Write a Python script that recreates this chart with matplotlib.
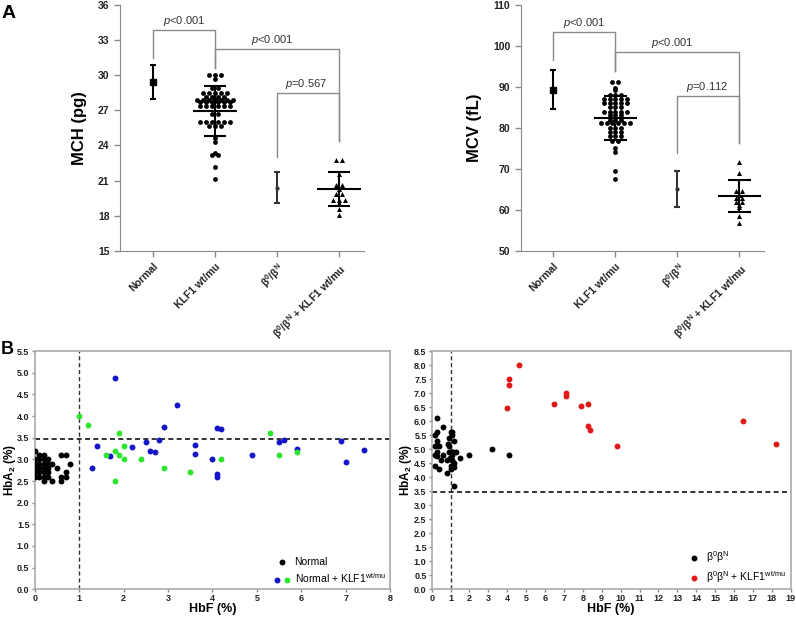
import matplotlib
matplotlib.use("Agg")
import matplotlib.pyplot as plt
from matplotlib.legend_handler import HandlerTuple
import numpy as np

plt.rcParams['font.family'] = ['Liberation Sans', 'DejaVu Sans']
plt.rcParams['mathtext.fontset'] = 'custom'
plt.rcParams['mathtext.rm'] = 'Liberation Sans'
plt.rcParams['mathtext.it'] = 'Liberation Sans:italic'
plt.rcParams['mathtext.bf'] = 'Liberation Sans:bold'

GRAY = '#8a8a8a'

# ---------- panel A data ----------
groups = ["Normal", "KLF1 wt/mu", r"β$^\mathbf{0}$/β$^\mathbf{N}$",
          r"β$^\mathbf{0}$/β$^\mathbf{N}$ + KLF1 wt/mu"]

# MCH (pg)
mch_mean = [29.4, 26.95, 20.4, 20.25]
mch_sd = [1.45, 2.1, 1.35, 1.45]
mch_klf1 = [30.0, 30.0, 30.0, 29.7, 28.9, 28.9,
            28.45, 28.45, 28.45, 28.45, 28.45,
            28.1, 28.1, 28.1, 28.1,
            27.9, 27.9, 27.9, 27.9, 27.9, 27.9, 27.9,
            27.7, 27.7, 27.7, 27.7, 27.7, 27.7,
            27.4, 27.4, 27.4, 27.4, 27.4, 27.4,
            26.65, 26.65,
            26.0, 26.0, 26.0, 26.0, 26.0, 26.0,
            25.65, 25.65, 25.65,
            24.65, 24.3, 23.4, 23.2, 23.2, 22.2, 21.1]
mch_combo = [22.8, 22.8, 21.55, 20.6, 20.6, 20.3, 19.9, 19.9,
             19.35, 19.35, 19.35, 19.05, 18.55, 18.1]

# MCV (fL)
mcv_mean = [89.3, 82.4, 65.2, 63.5]
mcv_sd = [4.75, 5.45, 4.4, 3.9]
mcv_klf1 = [91.1, 91.1, 89.7, 89.2, 88.1, 88.1, 88.1,
            87.1, 87.1, 87.1, 87.1, 87.1,
            86.1, 86.1, 86.1, 86.1, 86.1,
            85.1, 85.1, 85.1,
            84.0, 84.0, 84.0, 84.0, 84.0,
            83.1, 83.1, 83.1,
            82.0, 82.0, 82.0,
            81.2, 81.2, 81.2, 81.2, 81.2, 81.2,
            80.0, 80.0, 80.0,
            79.0, 79.0, 79.0,
            78.0, 78.0, 78.0,
            76.8, 76.8, 75.0, 74.1, 69.6, 67.6]
mcv_combo = [71.8, 68.9, 64.5, 64.5, 63.6, 63.0, 63.0,
             62.0, 62.0, 61.1, 60.6, 58.6, 56.9]

# brackets: (x_left, x_right, y_top, y_left_end, y_right_end, label, label_x)
mch_brackets = [(0, 1, 33.9, 31.5, 30.6, "$p$<0.001", 0.5),
                (1, 3, 32.25, 30.6, 24.4, "$p$<0.001", 1.92),
                (2, 3, 28.45, 23.0, 24.4, "$p$=0.567", 2.48)]
mcv_brackets = [(0, 1, 103.3, 96.5, 93.8, "$p$<0.001", 0.5),
                (1, 3, 98.6, 93.8, 76.3, "$p$<0.001", 1.92),
                (2, 3, 87.7, 74.0, 76.3, "$p$=0.112", 2.48)]

# ---------- panel B data ----------
normal_hbf = [0, 0, 0, 0, 0, 0,
              0.1, 0.1, 0.1, 0.1, 0.1, 0.1,
              0.2, 0.2, 0.2, 0.2, 0.2, 0.2, 0.2,
              0.3, 0.3, 0.3, 0.3, 0.3,
              0.4, 0.4, 0.5, 0.6, 0.6, 0.6, 0.7, 0.7, 0.7, 0.8]
normal_hba2 = [3.2, 3.0, 2.9, 2.8, 2.7, 2.6,
               3.1, 3.0, 2.9, 2.8, 2.7, 2.6,
               3.1, 3.0, 2.9, 2.8, 2.7, 2.6, 2.5,
               3.0, 2.9, 2.8, 2.7, 2.6,
               2.9, 2.5, 2.8, 3.1, 2.6, 2.5, 3.1, 2.7, 2.6, 2.9]

blue_hbf = [1.8, 3.2, 2.9, 4.1, 4.2, 1.4, 2.5, 2.8, 2.2, 2.6, 2.7, 3.6, 3.6,
            5.5, 5.6, 5.9, 1.7, 1.3, 4.0, 4.9, 4.1, 4.1, 6.9, 7.0, 7.4]
blue_hba2 = [4.87, 4.26, 3.74, 3.72, 3.69, 3.3, 3.41, 3.44, 3.28, 3.19, 3.18,
             3.33, 3.13, 3.4, 3.45, 3.24, 3.08, 2.8, 3.01, 3.11, 2.66, 2.6,
             3.43, 2.95, 3.21]
green_hbf = [1.0, 1.2, 1.9, 5.3, 2.0, 1.8, 1.6, 1.9, 2.0, 2.4, 4.2, 5.5, 5.9,
             2.9, 3.5, 1.8]
green_hba2 = [4.0, 3.8, 3.6, 3.6, 3.3, 3.2, 3.1, 3.1, 3.0, 3.0, 3.0, 3.1,
              3.18, 2.8, 2.7, 2.5]

bthal_hbf = [0.3, 0.6, 0.2, 0.3, 0.3, 0.2, 0.4, 0.2, 0.3, 0.2, 0.4, 0.5, 0.6,
             0.3, 0.8, 0.8, 0.85, 0.9, 0.9, 0.9, 1.0, 1.05, 1.1, 1.0, 1.0,
             1.05, 1.1, 1.15, 1.2, 1.2, 1.2, 1.2, 1.3, 1.5, 1.1, 0.95, 1.0,
             2.0, 3.2, 4.1]
bthal_hba2 = [6.1, 5.8, 5.5, 5.6, 5.3, 5.1, 5.1, 4.8, 4.9, 4.4, 4.3, 4.6, 4.8,
              4.75, 4.6, 4.15, 5.2, 5.4, 5.1, 4.9, 5.6, 5.5, 5.6, 4.3, 4.4,
              4.6, 4.8, 4.9, 5.3, 4.5, 4.35, 3.7, 4.9, 4.7, 4.9, 4.7, 4.9,
              4.8, 5.0, 4.8]
red_hbf = [4.6, 4.1, 4.1, 4.0, 6.5, 7.1, 7.1, 7.9, 8.3, 8.3, 8.4, 9.8, 16.5, 18.2]
red_hba2 = [8.0, 7.5, 7.3, 6.45, 6.6, 7.0, 6.9, 6.55, 6.6, 5.82, 5.7, 5.1,
            6.0, 5.2]


def swarm_offsets(vals, step):
    # spread equal values symmetrically around the group centre
    counts = {}
    for v in vals:
        counts[v] = counts.get(v, 0) + 1
    seen = {}
    offs = []
    for v in vals:
        i = seen.get(v, 0)
        seen[v] = i + 1
        offs.append((i - (counts[v] - 1) / 2) * step)
    return np.array(offs)


def dot_panel(ax, means, sds, klf1, combo, brackets, ylim, yticks, ylabel):
    # plain groups: mean +/- SD only
    ax.errorbar([0], [means[0]], yerr=[sds[0]], fmt='s', ms=4, color='black',
                ecolor='black', elinewidth=1.5, capsize=2.5, capthick=1.5)
    ax.errorbar([2], [means[2]], yerr=[sds[2]], fmt='o', ms=2, color='#333333',
                ecolor='#333333', elinewidth=1.5, capsize=2.5, capthick=1.5)
    # scatter groups
    ax.scatter(1 + swarm_offsets(klf1, 0.095), klf1, s=12, color='black',
               marker='o', zorder=3, linewidths=0)
    ax.scatter(3 + swarm_offsets(combo, 0.095), combo, s=13, color='black',
               marker='^', zorder=3, linewidths=0)
    for x in (1, 3):
        ax.hlines(means[x], x - 0.35, x + 0.35, color='black', lw=1.5, zorder=4)
        ax.hlines([means[x] - sds[x], means[x] + sds[x]], x - 0.18, x + 0.18,
                  color='black', lw=1.5, zorder=4)
        ax.vlines(x, means[x] - sds[x], means[x] + sds[x], color='black',
                  lw=1.5, zorder=4)
    for xl, xr, yt, yl, yr, lab, lx in brackets:
        ax.plot([xl, xl, xr, xr], [yl, yt, yt, yr], color=GRAY, lw=1)
        ax.text(lx, yt + (ylim[1] - ylim[0]) * 0.008, lab, ha='center',
                va='bottom', fontsize=8, color='#333333')
    ax.set_xlim(-0.53, 3.4)
    ax.set_ylim(*ylim)
    ax.set_yticks(yticks)
    ax.set_xticks(range(4))
    ax.set_xticklabels(groups, rotation=45, ha='right', rotation_mode='anchor',
                       fontweight='bold', fontsize=7.5)
    for lab in ax.get_yticklabels():
        lab.set_fontweight('bold')
    ax.tick_params(axis='both', colors=GRAY, labelcolor='#222222',
                   labelsize=7.5, length=4, width=1)
    ax.spines['top'].set_visible(False)
    ax.spines['right'].set_visible(False)
    ax.spines['left'].set_color(GRAY)
    ax.spines['bottom'].set_color(GRAY)
    ax.set_ylabel(ylabel, fontsize=12, fontweight='bold', labelpad=8)


def scatter_panel(ax, xmax, ymax):
    ax.axvline(1, color='#333333', ls='--', lw=1, dashes=(3, 2))
    ax.axhline(3.48, color='#111111', ls='--', lw=1.2, dashes=(3, 2))
    ax.set_xlim(0, xmax)
    ax.set_ylim(0, ymax)
    ax.set_xticks(range(0, xmax + 1))
    ax.set_yticks(np.arange(0, ymax + 0.01, 0.5))
    ax.set_yticklabels(["%.1f" % v for v in np.arange(0, ymax + 0.01, 0.5)])
    for lab in ax.get_xticklabels() + ax.get_yticklabels():
        lab.set_fontweight('bold')
    ax.tick_params(axis='both', colors=GRAY, labelcolor='#222222',
                   labelsize=6.5, length=2.5, width=1, pad=1.2)
    for sp in ax.spines.values():
        sp.set_color('#aaaaaa')
        sp.set_linewidth(1.2)
    ax.set_xlabel("HbF (%)", fontsize=9, fontweight='bold', labelpad=0)
    ax.set_ylabel(r"HbA$_\mathbf{2}$ (%)", fontsize=8.5, fontweight='bold')
    ax.yaxis.set_label_coords(-0.048, 0.5)


fig = plt.figure(figsize=(7.96, 6.18), dpi=100)

ax1 = fig.add_axes([0.1508, 0.594, 0.306, 0.398])
dot_panel(ax1, mch_mean, mch_sd, mch_klf1, mch_combo, mch_brackets,
          (15, 36), range(15, 37, 3), "MCH (pg)")

ax2 = fig.add_axes([0.654, 0.594, 0.306, 0.398])
dot_panel(ax2, mcv_mean, mcv_sd, mcv_klf1, mcv_combo, mcv_brackets,
          (50, 110), range(50, 111, 10), "MCV (fL)")

ax3 = fig.add_axes([0.0435, 0.0464, 0.4468, 0.3856])
scatter_panel(ax3, 8, 5.5)
h_norm = ax3.scatter(normal_hbf, normal_hba2, s=18, color='black',
                     linewidths=0, zorder=3)
h_blue = ax3.scatter(blue_hbf, blue_hba2, s=18, color='#1414c8',
                     linewidths=0, zorder=3)
h_green = ax3.scatter(green_hbf, green_hba2, s=18, color='#2ee62e',
                      linewidths=0, zorder=3)
ax3.legend([h_norm, (h_blue, h_green)],
           ["Normal", r"Normal + KLF1$^{\mathrm{wt/mu}}$"],
           handler_map={tuple: HandlerTuple(ndivide=None, pad=0.2)},
           loc='lower right', frameon=False, fontsize=7.5, handlelength=1.6,
           handletextpad=0.4, labelspacing=0.4, borderaxespad=0.05)

ax4 = fig.add_axes([0.5423, 0.0464, 0.451, 0.3856])
scatter_panel(ax4, 19, 8.5)
h_b = ax4.scatter(bthal_hbf, bthal_hba2, s=18, color='black', linewidths=0,
                  zorder=3)
h_r = ax4.scatter(red_hbf, red_hba2, s=18, color='#e01818', linewidths=0,
                  zorder=3)
ax4.legend([h_b, (h_r,)],
           [r"β$^{0}$β$^{\mathrm{N}}$",
            r"β$^{0}$β$^{\mathrm{N}}$ + KLF1$^{\mathrm{wt/mu}}$"],
           handler_map={tuple: HandlerTuple(ndivide=None)},
           loc='lower right', frameon=False, fontsize=7.5, handlelength=1.6,
           handletextpad=0.4, labelspacing=0.4, borderaxespad=0.05)

fig.text(0.002, 0.992, "A", fontsize=14, fontweight='bold', va='top')
fig.text(0.001, 0.449, "B", fontsize=13, fontweight='bold', va='top')

fig.savefig("out.png", dpi=100)
